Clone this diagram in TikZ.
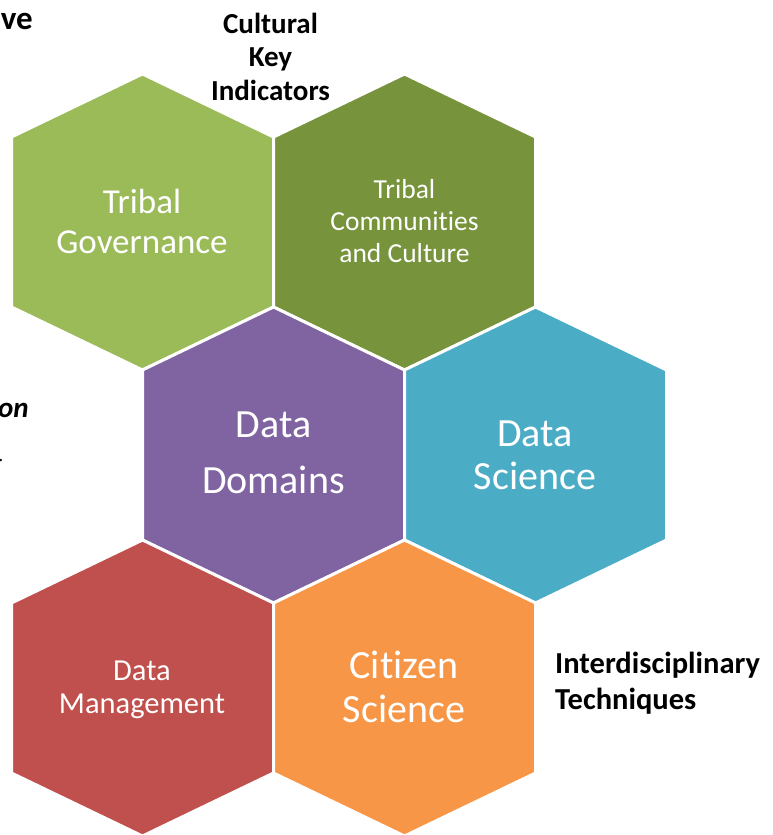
\documentclass[tikz,border=0pt]{standalone}
\usepackage{fontspec}
\setmainfont[Ligatures=NoCommon]{Carlito}
\definecolor{cTG}{HTML}{9BBB59}
\definecolor{cTC}{HTML}{77933C}
\definecolor{cDD}{HTML}{8064A2}
\definecolor{cDS}{HTML}{4BACC6}
\definecolor{cDM}{HTML}{C0504D}
\definecolor{cCS}{HTML}{F79646}
\newcommand\hexcellpath[3]{%
  \path[hexcell=#1, shift={(#2,#3)}] (-131,-85) -- (-131,85) -- (0,148) -- (131,85) -- (131,-85) -- (0,-148) -- cycle;}
\begin{document}
\begin{tikzpicture}[x=1pt,y=-1pt,
  hexcell/.style={fill=#1, draw=white, line width=3pt, line join=miter},
  hextext/.style={text=white, inner sep=0pt, anchor=base, font=\fontsize{#1}{#1}\selectfont},
  lbl/.style={text=black, inner sep=0pt, anchor=base, font=\fontsize{29}{34}\selectfont\bfseries}]
\useasboundingbox (0,0) rectangle (772,835);
\clip (0,0) rectangle (772,835);
\fill[white] (0,0) rectangle (772,835);
% hexagons
\hexcellpath{cTG}{142.5}{222}
\hexcellpath{cTC}{404.5}{222}
\hexcellpath{cDD}{273.5}{455}
\hexcellpath{cDS}{535.5}{455}
\hexcellpath{cDM}{142.5}{688}
\hexcellpath{cCS}{404.5}{688}
% hexagon texts
\node[hextext=35] (tg1) at (142,213) {Tribal};
\node[hextext=35] (tg2) at (142,253) {Governance};
\node[hextext=27.5] (tc1) at (404.5,198) {Tribal};
\node[hextext=27.5] (tc2) at (404.5,230.5) {Communities};
\node[hextext=27.5] (tc3) at (404.5,262.5) {and Culture};
\node[hextext=40] (dd1) at (273.5,437) {Data};
\node[hextext=40] (dd2) at (273.5,493) {Domains};
\node[hextext=40] (ds1) at (535,446) {Data};
\node[hextext=40] (ds2) at (535,489) {Science};
\node[hextext=30.5] (dm1) at (142,680) {Data};
\node[hextext=30.5] (dm2) at (142,713) {Management};
\node[hextext=40] (cs1) at (404,678) {Citizen};
\node[hextext=40] (cs2) at (404,722) {Science};
% outside labels
\node[lbl] (ck1) at (270.5,33) {Cultural};
\node[lbl] (ck2) at (270.5,66.5) {Key};
\node[lbl] (ck3) at (270.5,100) {Indicators};
\node[lbl, anchor=base west, font=\fontsize{30.5}{36}\selectfont\bfseries] (it1) at (555,673) {Interdisciplinary};
\node[lbl, anchor=base west, font=\fontsize{30.5}{36}\selectfont\bfseries] (it2) at (555,709) {Techniques};
\node[lbl, anchor=base east, font=\fontsize{33}{36}\selectfont\bfseries] (ve) at (33,29) {ve};
\node[lbl, anchor=base east, font=\fontsize{29}{34}\selectfont\bfseries\itshape] (on) at (29,417) {on};
\fill[black] (0.8,460) circle (1.3);
\end{tikzpicture}
\end{document}
